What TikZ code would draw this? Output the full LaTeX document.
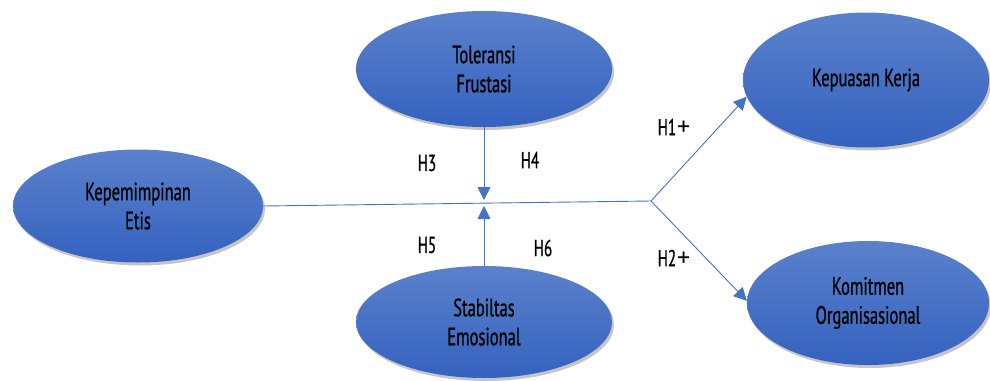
\documentclass[tikz,border=0pt]{standalone}
\usepackage{fontspec}
\setmainfont{PT Sans}[FakeStretch=0.66, FakeBold=0.8]
\usetikzlibrary{shapes.geometric,shadows,arrows.meta}
\definecolor{lineblue}{HTML}{4472C4}
\definecolor{topblue}{HTML}{5B81CC}
\definecolor{botblue}{HTML}{3462BF}
\newcommand{\bigplus}{\kern1pt{\fontspec{PT Sans}[FakeBold=0]\fontsize{26}{24}\selectfont +}}
\tikzset{
  oval/.style={ellipse, inner sep=0pt, align=center, top color=topblue, bottom color=botblue,
    draw=none, font=\fontsize{25}{29}\selectfont, text=black,
    drop shadow={shadow xshift=2pt, shadow yshift=-3pt, fill=black!45, opacity=0.5}},
  conn/.style={draw=lineblue, line width=0.9pt},
  arr/.style={conn, -{Triangle[length=13pt,width=13pt]}},
  hlab/.style={font=\fontsize{23}{24}\selectfont, text=black}
}
\begin{document}
\begin{tikzpicture}[x=1pt,y=-1pt]
\useasboundingbox (0,0) rectangle (990,380);
\node[oval, minimum width=250pt, minimum height=113pt] (kep) at (138,206) {Kepemimpinan\\Etis};
\node[oval, minimum width=256pt, minimum height=116pt] (tol) at (484,69) {Toleransi\\Frustasi};
\node[oval, minimum width=256pt, minimum height=112pt] (stab) at (484,322) {Stabiltas\\Emosional};
\node[oval, minimum width=246pt, minimum height=135pt] (kerja) at (866,80) {Kepuasan Kerja};
\node[oval, minimum width=242pt, minimum height=124pt] (komit) at (868,303) {Komitmen\\Organisasional};
\coordinate (branch) at (651,201);
\coordinate (ttip) at (484,200);
\coordinate (btip) at (484,206);
\draw[conn] (kep.east) -- (branch);
\draw[arr] (branch) -- (kerja.188);
\draw[arr] (branch) -- (komit.179);
\draw[arr] (tol.south) -- (ttip);
\draw[arr] (stab.north) -- (btip);
\node[hlab] (h3) at (427,163) {H3};
\node[hlab] (h4) at (530,160) {H4};
\node[hlab] (h5) at (427,245) {H5};
\node[hlab] (h6) at (543,248) {H6};
\node[hlab] (h1) at (674,127) {H1\bigplus};
\node[hlab] (h2) at (674,258) {H2\bigplus};
\end{tikzpicture}
\end{document}
